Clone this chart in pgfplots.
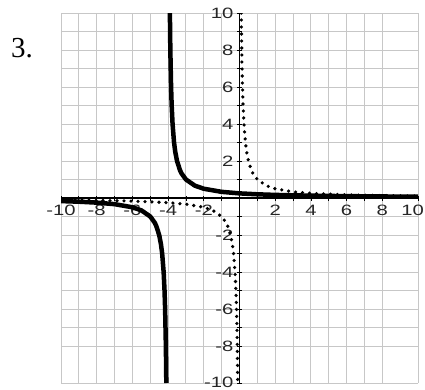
\documentclass[border=0pt]{standalone}
\usepackage{pgfplots}
\pgfplotsset{compat=1.18}
\usepackage{fontspec}
\setmainfont{Liberation Serif}
\newfontfamily\ticksans{Liberation Sans}

\begin{document}
\begin{tikzpicture}[x=1pt,y=1pt]
\useasboundingbox (0,0) rectangle (425,389);
\node[anchor=west, font=\fontsize{29}{30}\selectfont, inner sep=0pt] at (11,341) {3.};
\begin{axis}[
  at={(61pt,6pt)}, anchor=south west,
  scale only axis, width=357pt, height=370pt,
  xmin=-10, xmax=10, ymin=-10, ymax=10,
  axis lines=middle,
  axis line style={-, black, line width=1.1pt},
  xtick={-10,-8,...,8}, ytick={-8,-6,...,10},
  xticklabels={-10,-8,-6,-4,-2,,2,4,6,8},
  yticklabels={-8,-6,-4,-2,,2,4,6,8,10},
  extra x ticks={10}, extra x tick labels={10},
  extra x tick style={xticklabel style={anchor=north east, xshift=6pt}},
  extra y ticks={-10}, extra y tick labels={-10},
  extra y tick style={yticklabel style={anchor=south east, yshift=-6pt}},
  minor tick num=1,
  grid=both,
  grid style={draw=black!22, line width=1pt},
  minor grid style={draw=black!22, line width=1pt},
  major tick length=5pt, minor tick length=5pt,
  tick style={black, line width=0.8pt},
  tick label style={font=\ticksans\fontsize{15}{16}\selectfont, text=black!85, xscale=1.35, inner sep=1.5pt},
  xticklabel style={yshift=-3pt},
  yticklabel style={xshift=-1pt},
  /pgf/number format/assume math mode=true,
  clip=true,
]
% y = 1/x, dotted
\addplot[black, line width=3.6pt, line cap=round, dash pattern=on 0pt off 7pt] coordinates {
  (-10,-0.1) (-8,-0.125) (-6,-0.167) (-4,-0.25) (-3,-0.333) (-2,-0.5)
  (-1.5,-0.667) (-1,-1) (-0.75,-1.333) (-0.667,-1.5) (-0.5,-2) (-0.4,-2.5)
  (-0.333,-3) (-0.25,-4) (-0.2,-5) (-0.167,-6) (-0.143,-7) (-0.125,-8)
  (-0.111,-9) (-0.1,-10)
};
\addplot[black, line width=3.6pt, line cap=round, dash pattern=on 0pt off 7pt] coordinates {
  (0.1,10) (0.111,9) (0.125,8) (0.143,7) (0.167,6) (0.2,5) (0.25,4)
  (0.333,3) (0.4,2.5) (0.5,2) (0.667,1.5) (0.75,1.333) (1,1) (1.5,0.667)
  (2,0.5) (3,0.333) (4,0.25) (6,0.167) (8,0.125) (10,0.1)
};
% y = 1/(x+4), solid
\addplot[black, line width=4.5pt, line join=round] coordinates {
  (-10,-0.167) (-9,-0.2) (-8,-0.25) (-7,-0.333) (-6,-0.5) (-5.5,-0.667)
  (-5,-1) (-4.75,-1.333) (-4.667,-1.5) (-4.5,-2) (-4.4,-2.5) (-4.333,-3)
  (-4.25,-4) (-4.2,-5) (-4.167,-6) (-4.125,-8) (-4.1,-10)
};
\addplot[black, line width=4.5pt, line join=round] coordinates {
  (-3.9,10) (-3.875,8) (-3.833,6) (-3.8,5) (-3.75,4) (-3.667,3)
  (-3.6,2.5) (-3.5,2) (-3.333,1.5) (-3.25,1.333) (-3,1) (-2.5,0.667)
  (-2,0.5) (-1,0.333) (0,0.25) (1,0.2) (2,0.167) (4,0.125) (6,0.1)
  (8,0.083) (10,0.071)
};
\end{axis}
\end{tikzpicture}
\end{document}
